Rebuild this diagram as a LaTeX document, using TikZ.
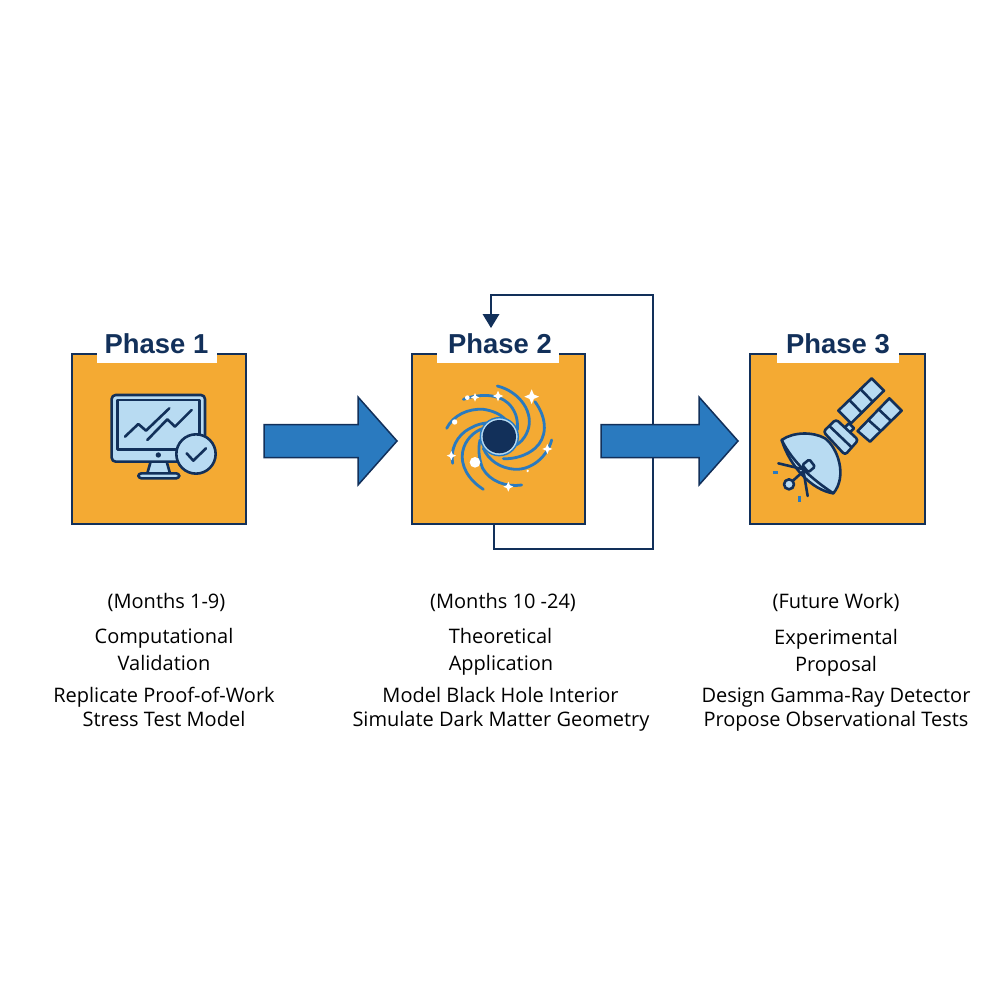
\documentclass[tikz,border=0pt]{standalone}
\usepackage{fontspec}
\setmainfont{Open Sans}
\newfontfamily\headfont{Liberation Sans}[BoldFont={Liberation Sans Bold}]
\usetikzlibrary{calc}
\definecolor{navy}{HTML}{12305A}
\definecolor{amber}{HTML}{F4AA33}
\definecolor{sky}{HTML}{B8DBF2}
\definecolor{flow}{HTML}{2A7ABF}
\tikzset{
  phasebox/.style={draw=navy,fill=amber,line width=2.7pt,minimum width=#1,minimum height=170pt,inner sep=0pt},
  phasetag/.style={fill=white,inner sep=0pt,minimum height=26pt,anchor=center},
  phaselabel/.style={anchor=base,inner sep=0pt,text=navy,font=\headfont\bfseries\fontsize{27.4}{30}\selectfont},
  bodytext/.style={text=black,anchor=base,inner sep=0pt,font=\fontsize{20}{20}\selectfont},
  feedback/.style={draw=navy,line width=2.7pt},
  flowarrow/.style={draw=navy,fill=flow,line width=1.5pt,line join=miter},
  icon/.style={draw=navy,line width=2.6pt,line join=round,line cap=round},
  iconfill/.style={icon,fill=sky},
  arm/.style={draw=flow,line width=2.8pt,line cap=round},
}
\newcommand{\sparkle}[2]{\fill[white] #1 ++(0,-#2) -- ++(.3*#2,.7*#2) -- ++(.7*#2,.3*#2) -- ++(-.7*#2,.3*#2) -- ++(-.3*#2,.7*#2) -- ++(-.3*#2,-.7*#2) -- ++(-.7*#2,-.3*#2) -- ++(.7*#2,-.3*#2) -- cycle;}
\newcommand{\blockarrow}[2]{\path[flowarrow] let \p1=(#1),\p2=(#2) in
  (\x1,\y1+16.5pt) -- (\x2-39pt,\y1+16.5pt) -- (\x2-39pt,\y1+44pt) -- (\x2,\y1) --
  (\x2-39pt,\y1-44pt) -- (\x2-39pt,\y1-16.5pt) -- (\x1,\y1-16.5pt) -- cycle;}
\begin{document}
\begin{tikzpicture}[x=1pt,y=-1pt]
\useasboundingbox (0,0) rectangle (1000,1000);
\fill[white] (0,0) rectangle (1000,1000);

% boxes
\node[phasebox=174pt] (b1) at (159,439) {};
\node[phasebox=173pt] (b2) at (498.5,439) {};
\node[phasebox=175pt] (b3) at (837.5,439) {};

% tags
\node[phasetag,minimum width=120pt] (t1) at (157,349.5) {};
\node[phasetag,minimum width=122pt] (t2) at (498,349.5) {};
\node[phasetag,minimum width=122pt] (t3) at (838,349.5) {};
\node[phaselabel] (l1) at (156.5,353) {Phase 1};
\node[phaselabel] (l2) at (500,353) {Phase 2};
\node[phaselabel] (l3) at (838,353) {Phase 3};

% feedback loop
\coordinate (fbstart) at (494,525);
\coordinate (fbend) at (491,328);
\coordinate (fbright) at (653,549);
\coordinate (fbtop) at (653,295);
\draw[feedback] (fbstart) |- (fbright) -- (fbtop) -| (491,314);
\fill[navy] (fbend) -- (482.5,314) -- (499.5,314) -- cycle;

% flow arrows
\coordinate (a1s) at (264,441);
\coordinate (a1e) at (397,441);
\coordinate (a2s) at (601,441);
\coordinate (a2e) at (738,441);
\blockarrow{a1s}{a1e}
\blockarrow{a2s}{a2e}

% monitor icon
\begin{scope}[shift={(60,320)},x=.3333pt,y=-.3333pt]
  \path[iconfill] (272,425) -- (262,460) -- (330,460) -- (320,425) -- cycle;
  \path[iconfill,rounded corners=3pt] (235,460) rectangle (358,475);
  \path[iconfill,rounded corners=4pt] (155,225) rectangle (435,425);
  \draw[icon] (172,240) rectangle (418,388);
  \fill[navy] (295,405) circle (8);
  \draw[icon] (195,350) -- (235,312) -- (258,332) -- (328,265);
  \draw[icon] (262,360) -- (322,298) -- (345,320) -- (395,270);
  \path[iconfill] (408,402) circle (59);
  \draw[icon] (380,400) -- (400,422) -- (438,385);
\end{scope}

% black hole icon
\begin{scope}[shift={(440,380)},x=.3333pt,y=-.3333pt]
  \draw[arm] (172,18) .. controls (240,35) and (285,100) .. (262,155) .. controls (252,178) and (240,190) .. (222,198);
  \draw[arm] (285,65) .. controls (325,120) and (320,175) .. (285,205) .. controls (262,225) and (225,238) .. (190,236);
  \draw[arm] (335,180) .. controls (322,230) and (275,270) .. (225,268) .. controls (180,265) and (145,240) .. (130,205);
  \draw[arm] (245,315) .. controls (200,322) and (150,305) .. (128,265) .. controls (118,240) and (113,210) .. (120,180);
  \draw[arm] (130,328) .. controls (85,300) and (60,255) .. (68,215) .. controls (75,180) and (100,155) .. (130,145);
  \draw[arm] (38,250) .. controls (30,210) and (50,165) .. (90,145) .. controls (110,133) and (135,128) .. (150,128);
  \draw[arm] (20,145) .. controls (40,105) and (85,85) .. (130,88) .. controls (160,92) and (190,105) .. (205,130);
  \draw[arm] (70,58) .. controls (120,40) and (175,42) .. (205,70) .. controls (225,90) and (235,115) .. (232,150);
  \fill[sky] (178,170) circle (57);
  \draw[flow,line width=1.4pt] (178,170) circle (57);
  \fill[navy] (178,170) circle (50);
  \sparkle{(275,50)}{22}
  \sparkle{(174,48)}{16}
  \sparkle{(105,52)}{13}
  \sparkle{(322,207)}{15}
  \sparkle{(205,320)}{15}
  \sparkle{(34,227)}{14}
  \fill[white] (105,247) circle (16);
  \fill[white] (82,53) circle (7);
  \fill[white] (44,126) circle (8);
  \fill[white] (263,273) circle (4);
\end{scope}

% satellite icon
\begin{scope}[shift={(770,370)},x=.3333pt,y=-.3333pt]
  \path[iconfill] (205,122) -- (305,25) -- (342,62) -- (243,160) -- cycle;
  \draw[icon] (238,90) -- (275,128);
  \draw[icon] (271,57) -- (308,95);
  \path[iconfill] (263,183) -- (358,85) -- (395,122) -- (300,215) -- cycle;
  \draw[icon] (295,150) -- (332,183);
  \draw[icon] (326,118) -- (363,153);
  \path[iconfill] (222,175) -- (237,160) -- (252,175) -- (237,190) -- cycle;
  \path[iconfill,rounded corners=3pt] (160,185) -- (198,148) -- (265,210) -- (225,255) -- cycle;
  \draw[icon] (178,168) -- (245,232);
  \path[iconfill] (35,210) .. controls (70,185) and (130,185) .. (165,205) .. controls (205,235) and (232,320) .. (190,370) .. controls (125,360) and (60,290) .. (35,210) -- cycle;
  \draw[icon] (35,210) .. controls (70,280) and (130,330) .. (190,370);
  \draw[icon] (25,280) -- (100,298);
  \draw[icon] (100,300) -- (113,378);
  \draw[icon] (115,290) -- (57,343);
  \path[iconfill] (57,343) circle (15);
  \path[iconfill,rounded corners=1.5pt] (97,285) -- (118,268) -- (135,290) -- (115,307) -- cycle;
  \draw[flow,line width=2.5pt] (8,307) -- (25,307);
  \draw[flow,line width=2.5pt] (88,378) -- (88,395);
\end{scope}

% captions
\node[bodytext] (c1a) at (166.5,608) {(Months 1-9)};
\node[bodytext] (c1b) at (164,643) {Computational};
\node[bodytext] (c1c) at (164,670) {Validation};
\node[bodytext] (c1d) at (164,702) {Replicate Proof-of-Work};
\node[bodytext] (c1e) at (164,726) {Stress Test Model};

\node[bodytext] (c2a) at (503,608) {(Months 10 -24)};
\node[bodytext] (c2b) at (500.5,643) {Theoretical};
\node[bodytext] (c2c) at (501,670) {Application};
\node[bodytext] (c2d) at (500.5,702) {Model Black Hole Interior};
\node[bodytext] (c2e) at (501,726) {Simulate Dark Matter Geometry};

\node[bodytext] (c3a) at (836,608) {(Future Work)};
\node[bodytext] (c3b) at (836,644) {Experimental};
\node[bodytext] (c3c) at (836,671) {Proposal};
\node[bodytext] (c3d) at (836,702) {Design Gamma-Ray Detector};
\node[bodytext] (c3e) at (836,726) {Propose Observational Tests};
\end{tikzpicture}
\end{document}
